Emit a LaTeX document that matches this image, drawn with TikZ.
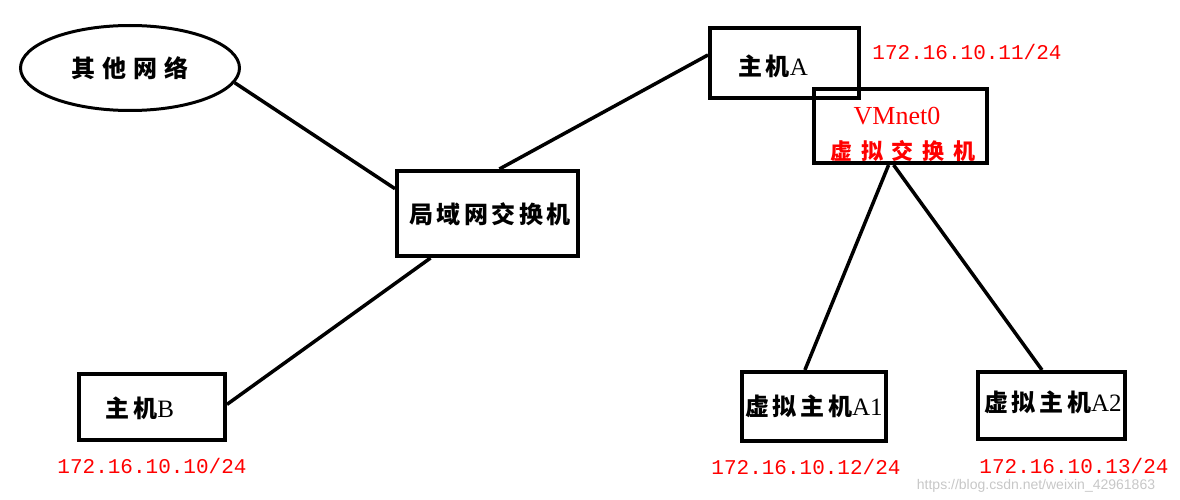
\documentclass[tikz,border=0pt]{standalone}
\usepackage{fontspec}
\setmainfont{Liberation Serif}
\setmonofont{Liberation Mono}
\setsansfont{Liberation Sans}
\newfontfamily\cjk{Noto Sans CJK SC}[LetterSpace=15]
\newfontfamily\cjkwide{Noto Sans CJK SC}[LetterSpace=30]
\newfontfamily\cjkred{Noto Sans CJK SC}[LetterSpace=40]
\usetikzlibrary{shapes.geometric}
\tikzset{
  box/.style={draw=black, line width=4pt, rectangle, inner sep=0pt, fill=none},
  ellbox/.style={draw=black, line width=3pt, ellipse, inner sep=0pt},
  link/.style={draw=black, line width=3.5pt},
  cn/.style={font=\cjk\bfseries\fontsize{24}{24}\selectfont},
  ip/.style={text=red, font=\ttfamily\fontsize{21}{21}\selectfont, inner sep=0pt},
}
\newcommand{\zh}[1]{{\cjk\bfseries\fontsize{24}{24}\selectfont #1}}
\newcommand{\la}[1]{{\rmfamily\fontsize{25}{25}\selectfont #1}}
\begin{document}
\begin{tikzpicture}[x=1pt,y=-1pt]
\useasboundingbox (0,0) rectangle (1180,500);
% nodes
\node[ellbox, minimum width=219pt, minimum height=85pt] (ell) at (130,68) {};
\node[inner sep=0pt] (elltxt) at (130,68) {{\cjkwide\bfseries\fontsize{24}{24}\selectfont 其他网络}};
\node[box, minimum width=181pt, minimum height=85pt] (sw) at (487.5,213.5) {};
\node[inner sep=0pt] (swtxt) at (490,214) {\zh{局域网交换机}};
\node[box, minimum width=149pt, minimum height=70pt] (ha) at (784.5,63) {};
\node[inner sep=0pt] (hatxt) at (773,66) {\zh{主机}\la{A}};
\node[box, minimum width=173pt, minimum height=74pt] (vm) at (900.5,126) {};
\node[inner sep=0pt, text=red, font=\rmfamily\fontsize{26}{26}\selectfont] (vmtxt1) at (897,116) {VMnet0};
\node[inner sep=0pt, text=red] (vmtxt2) at (903,151) {\cjkred\bfseries\fontsize{22}{22}\selectfont 虚拟交换机};
\node[box, minimum width=146pt, minimum height=66pt] (hb) at (152,407) {};
\node[inner sep=0pt] (hbtxt) at (140,408) {\zh{主机}\la{B}};
\node[box, minimum width=144pt, minimum height=69pt] (a1) at (814,406.5) {};
\node[inner sep=0pt] (a1txt) at (814,406) {\zh{虚拟主机}\la{A1}};
\node[box, minimum width=147pt, minimum height=67pt] (a2) at (1051.5,405.5) {};
\node[inner sep=0pt] (a2txt) at (1053,402) {\zh{虚拟主机}\la{A2}};
% ip labels
\node[ip] (ipA) at (967,52) {172.16.10.11/24};
\node[ip] (ipB) at (152,466) {172.16.10.10/24};
\node[ip] (ipA1) at (806,467) {172.16.10.12/24};
\node[ip] (ipA2) at (1074,466) {172.16.10.13/24};
% watermark
\node[inner sep=0pt, text=black!22, font=\sffamily\fontsize{14}{14}\selectfont] (wm) at (1036,486) {https://blog.csdn.net/weixin\_42961863};
% connectors
\draw[link] (ell.-8) -- (sw.165);
\draw[link] (sw.75) -- (ha.174);
\draw[link] (sw.-142) -- (hb.2);
\draw[link] (vm.-107) -- (a1.104);
\draw[link] (vm.-100) -- (a2.105);
\end{tikzpicture}
\end{document}
